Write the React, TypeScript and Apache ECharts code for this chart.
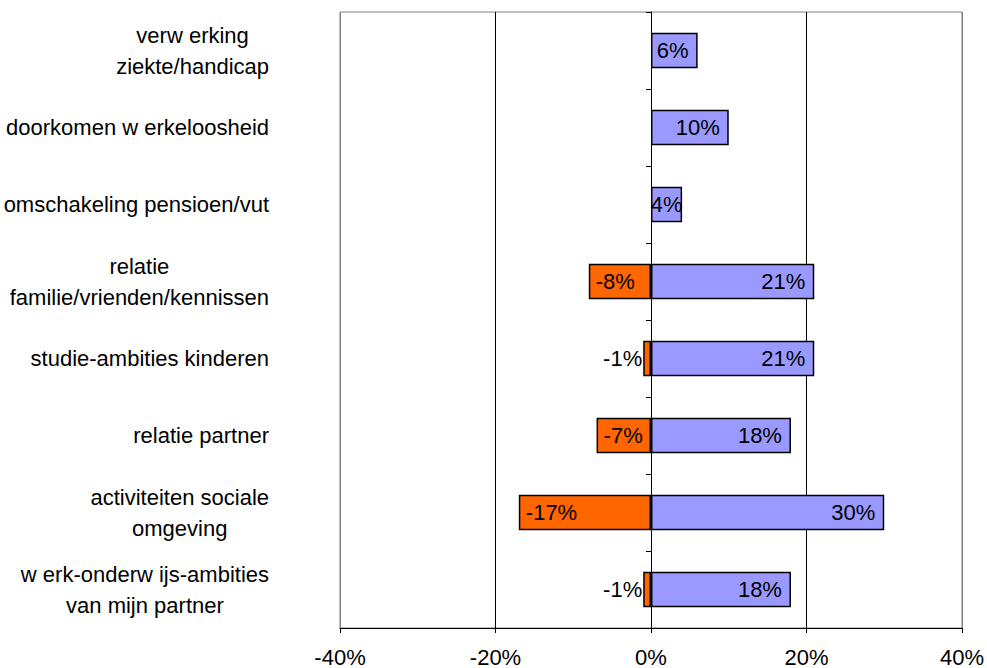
import React, { useEffect, useRef } from "react";
import * as echarts from "echarts";

const categories = [
  "verw erking\nziekte/handicap",
  "doorkomen w erkeloosheid",
  "omschakeling pensioen/vut",
  "relatie\nfamilie/vrienden/kennissen",
  "studie-ambities kinderen",
  "relatie partner",
  "activiteiten sociale\nomgeving",
  "w erk-onderw ijs-ambities\nvan mijn partner",
];
const positiveValues = [6, 10, 4, 21, 21, 18, 30, 18];
const negativeValues: (number | null)[] = [null, null, null, -8, -1, -7, -17, -1];
const xTicks = { min: -40, max: 40, interval: 20 };

const FONT = "'Liberation Sans', Arial, sans-serif";
const FS = 22;

export default function App() {
  const ref = useRef<HTMLDivElement>(null);
  useEffect(() => {
    if (!ref.current) return;
    const chart = echarts.init(ref.current, undefined, { renderer: "svg" });
    const labelBase = {
      show: true,
      color: "#000",
      fontSize: FS,
      fontFamily: FONT,
      formatter: (p: any) => `${p.value}%`,
    };
    chart.setOption({
      animation: false,
      textStyle: { fontFamily: FONT },
      grid: {
        left: 340,
        right: 24,
        top: 12,
        bottom: 38,
        show: true,
        borderColor: "#808080",
        borderWidth: 1,
      },
      xAxis: {
        type: "value",
        min: xTicks.min,
        max: xTicks.max,
        interval: xTicks.interval,
        axisLine: { show: true, onZero: false, lineStyle: { color: "#000", width: 1 } },
        axisTick: { show: true, length: 5, lineStyle: { color: "#000" } },
        axisLabel: {
          formatter: "{value}%",
          color: "#000",
          fontSize: FS,
          fontFamily: FONT,
          margin: 18,
        },
        splitLine: {
          show: true,
          lineStyle: {
            color: ["#808080", "#000", "#000", "#000", "#808080"],
            width: 1,
          },
        },
      },
      yAxis: [
        {
          type: "category",
          data: categories,
          inverse: true,
          position: "left",
          axisLine: { show: false, onZero: false },
          axisTick: { show: false },
          splitLine: { show: false },
          axisLabel: {
            margin: 71,
            align: "right",
            color: "#000",
            fontSize: FS,
            fontFamily: FONT,
            lineHeight: 31,
            formatter: (v: string) =>
              v
                .split("\n")
                .map((l) => `{c|${l}}`)
                .join("\n"),
            rich: {
              c: {
                align: "center",
                fontSize: FS,
                fontFamily: FONT,
                color: "#000",
                lineHeight: 31,
              },
            },
          },
        },
        {
          type: "category",
          data: categories,
          inverse: true,
          position: "left",
          axisLine: { show: true, onZero: true, lineStyle: { color: "#000", width: 1 } },
          axisTick: { show: true, length: 5, inside: false, lineStyle: { color: "#000" } },
          axisLabel: { show: false },
          splitLine: { show: false },
        },
      ],
      series: [
        {
          type: "bar",
          yAxisIndex: 0,
          barWidth: "46%",
          barGap: "-100%",
          data: positiveValues.map((v) =>
            v < 5 ? { value: v, label: { position: "inside" } } : v
          ),
          itemStyle: { color: "#9999FF", borderColor: "#000", borderWidth: 1.5 },
          label: { ...labelBase, position: "insideRight", distance: 9 },
          z: 3,
        },
        {
          type: "bar",
          yAxisIndex: 0,
          barWidth: "46%",
          barGap: "-100%",
          data: negativeValues.map((v) =>
            v !== null && v > -3 ? { value: v, label: { position: "left", distance: 1 } } : v
          ),
          itemStyle: { color: "#FF6600", borderColor: "#000", borderWidth: 1.5 },
          label: { ...labelBase, position: "insideLeft", distance: 7 },
          z: 3,
        },
      ],
    });
    return () => chart.dispose();
  }, []);
  return (
    <div
      ref={ref}
      style={{ position: "fixed", left: 0, top: 0, width: 987, height: 668, background: "#fff" }}
    />
  );
}
